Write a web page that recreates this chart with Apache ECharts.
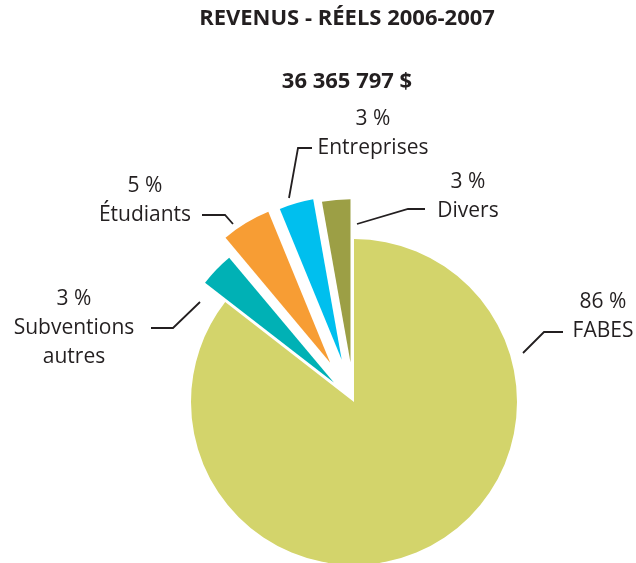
<!DOCTYPE html>
<html>
<head>
<meta charset="utf-8">
<script src="https://cdn.jsdelivr.net/npm/echarts@6/dist/echarts.min.js"></script>
<style>
html, body { margin: 0; padding: 0; background: #fff; }
#main { width: 636px; height: 563px; }
</style>
</head>
<body>
<div id="main"></div>
<script>
var chart = echarts.init(document.getElementById('main'));

// données
var titleText = 'REVENUS - RÉELS 2006-2007';
var totalText = '36 365 797 $';
var categories = ['FABES', 'Subventions\nautres', 'Étudiants', 'Entreprises', 'Divers'];
var shares = [85.5, 3.4, 4.9, 3.4, 2.8];

// style / mise en page
var colors = ['#d3d46b', '#00b1b5', '#f79d34', '#00bfee', '#9c9f45'];
var offsets = [0, 28, 46, 44, 40];
var labelPos = [[603, 317], [74, 328], [145, 201], [373, 134], [468, 197]];
var linePts = [
    [[523, 353], [544, 332], [563, 332]],
    [[200, 302], [173, 328], [151, 328]],
    [[233, 224], [225, 215], [202, 215]],
    [[289, 198], [298, 148], [312, 148]],
    [[357, 224], [408, 209], [425, 209]]
];
var textColor = '#231f20';
var font = '"Open Sans", sans-serif';
var transparent = 'rgba(0,0,0,0)';

var base = {
    type: 'pie',
    center: [354, 402],
    radius: 163,
    startAngle: 90,
    clockwise: true,
    avoidLabelOverlap: false,
    percentPrecision: 0,
    silent: true,
    animation: false
};

// une série par part, pour avoir un décalage propre à chacune
var series = categories.map(function (name, i) {
    return echarts.util.merge({
        selectedMode: 'multiple',
        selectedOffset: offsets[i],
        label: { show: false },
        labelLine: { show: false },
        data: categories.map(function (n, j) {
            var c = j === i ? colors[j] : transparent;
            return {
                name: n,
                value: shares[j],
                selected: j === i && offsets[i] > 0,
                itemStyle: { color: c },
                select: { itemStyle: { color: c } }
            };
        })
    }, base, false);
});

// série des étiquettes (parts invisibles, non décalées)
series.push(echarts.util.merge({
    label: {
        formatter: '{d} %\n{b}',
        color: textColor,
        fontFamily: font,
        fontSize: 21,
        lineHeight: 29,
        align: 'center'
    },
    labelLine: {
        show: true,
        lineStyle: { color: textColor, width: 1.8 }
    },
    labelLayout: function (params) {
        var i = params.dataIndex;
        return {
            x: labelPos[i][0],
            y: labelPos[i][1],
            align: 'center',
            verticalAlign: 'middle',
            labelLinePoints: linePts[i]
        };
    },
    itemStyle: { color: transparent },
    data: categories.map(function (n, j) {
        return { name: n, value: shares[j] };
    })
}, base, false));

var option = {
    backgroundColor: '#fff',
    graphic: [
        {
            type: 'text', x: 347, y: 19,
            style: {
                text: titleText, fill: textColor, fontFamily: font,
                fontSize: 22, fontWeight: 'bold', align: 'center', verticalAlign: 'middle'
            }
        },
        {
            type: 'text', x: 347, y: 82,
            style: {
                text: totalText, fill: textColor, fontFamily: font,
                fontSize: 22, fontWeight: 'bold', align: 'center', verticalAlign: 'middle'
            }
        }
    ],
    series: series
};

chart.setOption(option);
</script>
</body>
</html>
